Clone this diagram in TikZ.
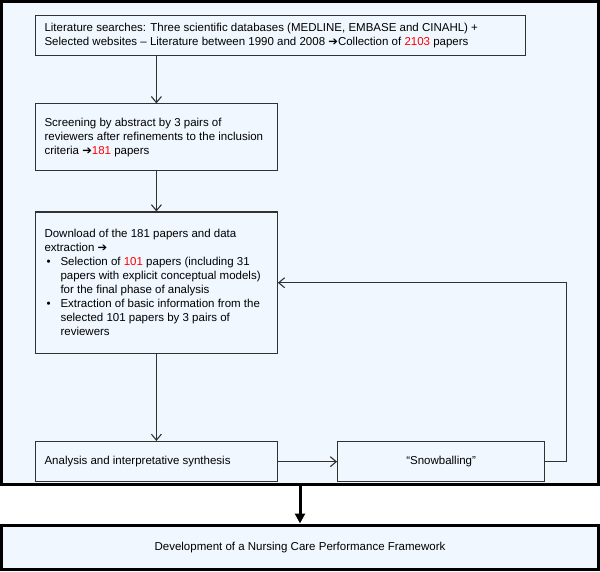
\documentclass[tikz,border=0pt]{standalone}
\usepackage{fontspec}
\setmainfont{Liberation Sans}
\newfontfamily\symfont{DejaVu Sans}
\usetikzlibrary{positioning,arrows.meta}
\definecolor{paleblue}{RGB}{240,247,254}
\definecolor{boxline}{RGB}{50,50,50}
\newcommand{\heavyarr}{{\symfont ➔}}
\newcommand{\hl}[1]{\textcolor{red}{#1}}
\newcommand{\bul}{\hspace*{2pt}\makebox[14pt][l]{•}}
\newcommand{\ind}{\hspace*{16pt}}

\begin{document}
\begin{tikzpicture}[x=1pt,y=-1pt,
  font=\fontsize{11.5}{14}\selectfont,
  box/.style={draw=boxline,line width=1.1pt,fill=paleblue,inner xsep=9pt,inner ysep=0pt,align=flush left,text width=223.7pt,anchor=north west},
  flow/.style={draw=boxline,line width=1.1pt,-{Straight Barb[length=6pt,width=10pt]}},
  heavy/.style={draw=black,line width=3pt,fill=paleblue,inner sep=0pt,anchor=north west,minimum width=597pt}]
  \useasboundingbox (0,0) rectangle (600,572);
  \node[heavy,minimum height=483pt] (review) at (0,0) {};
  \node[box,text width=472pt,minimum height=40pt] (search) at (35,15) {Literature searches: Three scientific databases (MEDLINE, EMBASE and CINAHL) +\\Selected websites -- Literature between 1990 and 2008 \heavyarr Collection of \hl{2103} papers};
  \node[box,below=47.3pt of search.south west,anchor=north west,minimum height=67pt] (screen) {Screening by abstract by 3 pairs of\\reviewers after refinements to the inclusion\\criteria \heavyarr\hl{181} papers};
  \node[box,below=40pt of screen,minimum height=141.4pt] (download) {Download of the 181 papers and data\\extraction \heavyarr\\
    \bul Selection of \hl{101} papers (including 31\\\ind papers with explicit conceptual models)\\\ind for the final phase of analysis\\
    \bul Extraction of basic information from the\\\ind selected 101 papers by 3 pairs of\\\ind reviewers};
  \node[box,below=87pt of download,minimum height=40.3pt] (analysis) {Analysis and interpretative synthesis};
  \node[box,right=59.3pt of analysis,text width=189pt,align=center,minimum height=40.3pt] (snow) {“Snowballing”};
  \node[heavy,minimum height=44.5pt] (develop) at (0,523.5) {Development of a Nursing Care Performance Framework};
  \draw[flow] (search.south -| screen.north) -- (screen.north);
  \draw[flow] (screen) -- (download);
  \draw[flow] (download) -- (analysis);
  \draw[flow] (analysis) -- (snow);
  \draw[flow] (snow.east) -- ++(21,0) |- (download.east);
  \draw[line width=3pt,-{Triangle[length=10pt,width=10pt]}] (review.south) -- (develop.north);
\end{tikzpicture}
\end{document}
